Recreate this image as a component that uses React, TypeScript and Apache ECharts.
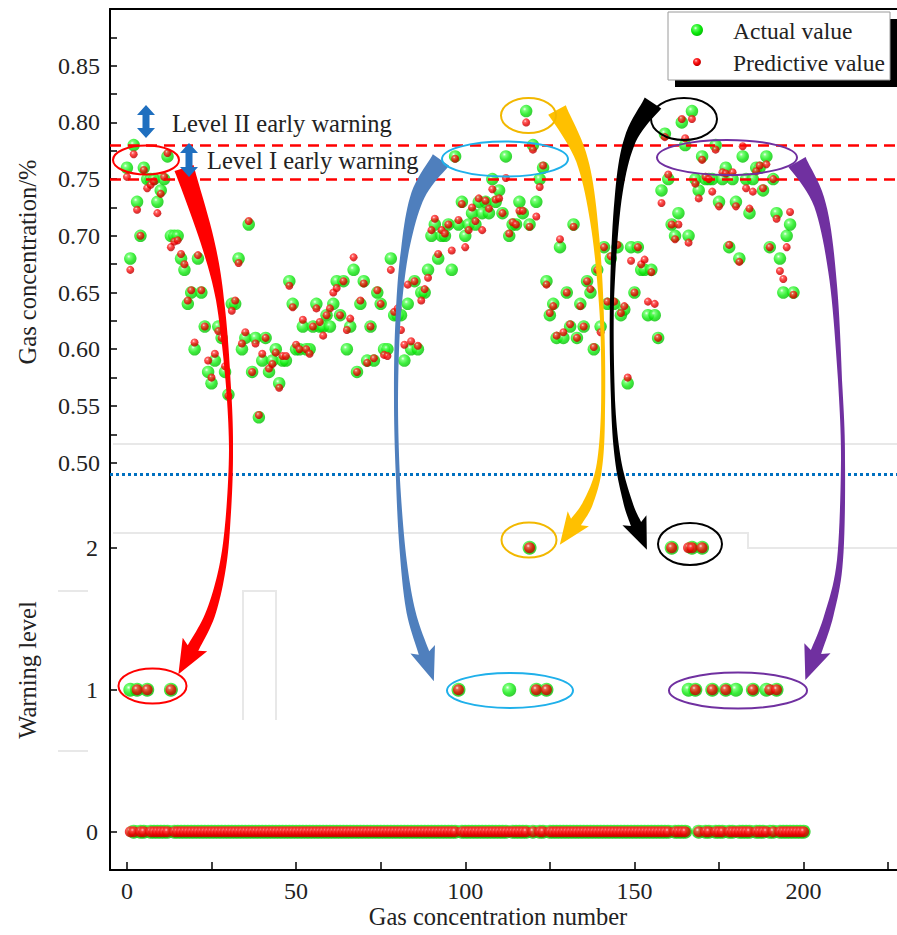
import React, { useEffect, useRef } from "react";
import * as echarts from "echarts";

// ---- Data ----
// Gas concentration (%) per sample, top panel (sample 1..198)
const actualValues = [
  0.76, 0.68, 0.78, 0.73, 0.7, 0.76, 0.75, 0.75, 0.75, 0.73, 0.74, 0.75, 0.77, 0.7, 0.7, 0.7, 0.68, 0.67, 0.64, 0.65,
  0.6, 0.68, 0.65, 0.62, 0.58, 0.57, 0.59, 0.62, 0.61, 0.58, 0.56, 0.64, 0.64, 0.68, 0.6, 0.61, 0.71, 0.58, 0.61, 0.54,
  0.59, 0.61, 0.58, 0.59, 0.6, 0.57, 0.59, 0.59, 0.66, 0.64, 0.6, 0.6, 0.62, 0.6, 0.6, 0.62, 0.64, 0.62, 0.62, 0.63,
  0.62, 0.64, 0.66, 0.63, 0.66, 0.6, 0.62, 0.67, 0.58, 0.64, 0.66, 0.59, 0.62, 0.59, 0.65, 0.64, 0.6, 0.6, 0.68, 0.63,
  0.63, 0.63, 0.59, 0.64, 0.6, 0.66, 0.6, 0.65, 0.65, 0.67, 0.7, 0.71, 0.68, 0.7, 0.7, 0.71, 0.67, 0.77, 0.71, 0.73,
  0.7, 0.71, 0.72, 0.71, 0.73, 0.72, 0.73, 0.72, 0.75, 0.73, 0.74, 0.72, 0.77, 0.7, 0.71, 0.71, 0.73, 0.72, 0.81, 0.71,
  0.78, 0.73, 0.75, 0.76, 0.66, 0.63, 0.64, 0.61, 0.69, 0.61, 0.65, 0.62, 0.71, 0.61, 0.64, 0.62, 0.66, 0.65, 0.6, 0.67,
  0.62, 0.69, 0.64, 0.68, 0.64, 0.69, 0.63, 0.635, 0.57, 0.69, 0.65, 0.69, 0.67, 0.67, 0.63, 0.67, 0.63, 0.61, 0.74, 0.79,
  0.75, 0.71, 0.7, 0.72, 0.8, 0.78, 0.7, 0.81, 0.75, 0.74, 0.77, 0.75, 0.75, 0.75, 0.78, 0.73, 0.75, 0.76, 0.69, 0.75,
  0.73, 0.68, 0.77, 0.75, 0.72, 0.75, 0.76, 0.76, 0.74, 0.77, 0.69, 0.75, 0.72, 0.68, 0.65, 0.7, 0.71, 0.65,
];
const predictedValues = [
  0.752, 0.67, 0.772, 0.723, 0.7, 0.758, 0.742, 0.745, 0.748, 0.72, 0.737, 0.752, 0.773, 0.69, 0.695, 0.696, 0.684, 0.675, 0.643, 0.652,
  0.606, 0.683, 0.652, 0.62, 0.59, 0.575, 0.596, 0.616, 0.61, 0.585, 0.559, 0.634, 0.643, 0.676, 0.605, 0.615, 0.713, 0.58, 0.605, 0.542,
  0.596, 0.61, 0.583, 0.587, 0.597, 0.566, 0.594, 0.594, 0.656, 0.637, 0.604, 0.6, 0.626, 0.6, 0.596, 0.62, 0.636, 0.624, 0.612, 0.63,
  0.636, 0.65, 0.654, 0.63, 0.66, 0.617, 0.627, 0.681, 0.58, 0.643, 0.658, 0.588, 0.62, 0.592, 0.652, 0.64, 0.595, 0.594, 0.67, 0.633,
  0.636, 0.617, 0.604, 0.657, 0.607, 0.66, 0.603, 0.643, 0.653, 0.663, 0.705, 0.715, 0.684, 0.705, 0.702, 0.71, 0.687, 0.768, 0.714, 0.728,
  0.69, 0.705, 0.725, 0.713, 0.733, 0.705, 0.731, 0.724, 0.741, 0.732, 0.733, 0.72, 0.751, 0.702, 0.712, 0.71, 0.722, 0.722, 0.8, 0.708,
  0.776, 0.717, 0.743, 0.762, 0.657, 0.632, 0.638, 0.612, 0.697, 0.615, 0.65, 0.622, 0.708, 0.61, 0.638, 0.62, 0.66, 0.653, 0.602, 0.67,
  0.615, 0.69, 0.642, 0.682, 0.642, 0.692, 0.632, 0.638, 0.575, 0.678, 0.65, 0.69, 0.675, 0.679, 0.642, 0.668, 0.64, 0.61, 0.729, 0.787,
  0.754, 0.71, 0.697, 0.71, 0.803, 0.786, 0.694, 0.803, 0.746, 0.733, 0.767, 0.752, 0.75, 0.739, 0.776, 0.726, 0.756, 0.755, 0.692, 0.756,
  0.726, 0.677, 0.779, 0.742, 0.724, 0.739, 0.757, 0.762, 0.742, 0.763, 0.69, 0.75, 0.715, 0.669, 0.662, 0.69, 0.721, 0.648,
];

// Warning level per sample, bottom panel (samples 1..200; unlisted samples are level 0)
const sampleCount = 200;
const actualLevel1Samples = [1, 3, 6, 13, 98, 113, 121, 124, 166, 168, 173, 177, 180, 185, 189, 192];
const actualLevel2Samples = [119, 161, 167, 170];
const predictedLevel1Samples = [3, 6, 13, 98, 121, 124, 168, 173, 177, 185, 190, 192];
const predictedLevel2Samples = [119, 161, 166, 167, 170];

// Thresholds / reference lines
const levelIIThreshold = 0.783;
const levelIThreshold = 0.753;
const baselineValue = 0.488;

// Axes
const concLabels = [0.5, 0.55, 0.6, 0.65, 0.7, 0.75, 0.8, 0.85];
const concTicks = [0.5, 0.525, 0.55, 0.575, 0.6, 0.625, 0.65, 0.675, 0.7, 0.725, 0.75, 0.775, 0.8, 0.825, 0.85, 0.875];
const levelTicks = [0, 1, 2];
const xLabelValues = [0, 50, 100, 150, 200];
const xTickValues = [0, 25, 50, 75, 100, 125, 150, 175, 200, 225];

const FONT = "Liberation Serif";

const greenStops = [
  { offset: 0, color: "#f4fff4" },
  { offset: 0.2, color: "#5cff5c" },
  { offset: 0.6, color: "#0bea0b" },
  { offset: 1, color: "#05bb05" },
];
const redStops = [
  { offset: 0, color: "#ffe6e6" },
  { offset: 0.22, color: "#ff4040" },
  { offset: 0.6, color: "#f00000" },
  { offset: 1, color: "#b00000" },
];
const greenBall = { type: "radial", x: 0.38, y: 0.34, r: 0.7, colorStops: greenStops };
const redBall = { type: "radial", x: 0.38, y: 0.34, r: 0.7, colorStops: redStops };

function arrowPolygon(center: number[][], widths: number[], headLen: number, headW: number) {
  const pts: number[][] = [];
  const ws: number[] = [];
  const n = center.length;
  for (let i = 0; i < n - 1; i++) {
    const p0 = center[Math.max(0, i - 1)], p1 = center[i], p2 = center[i + 1], p3 = center[Math.min(n - 1, i + 2)];
    const steps = 10;
    for (let s = 0; s < steps; s++) {
      const t = s / steps, t2 = t * t, t3 = t2 * t;
      const c = (k: number) =>
        0.5 * (2 * p1[k] + (-p0[k] + p2[k]) * t + (2 * p0[k] - 5 * p1[k] + 4 * p2[k] - p3[k]) * t2 + (-p0[k] + 3 * p1[k] - 3 * p2[k] + p3[k]) * t3);
      pts.push([c(0), c(1)]);
      ws.push(widths[i] + (widths[i + 1] - widths[i]) * t);
    }
  }
  pts.push(center[n - 1]);
  ws.push(widths[n - 1]);
  const left: number[][] = [], right: number[][] = [];
  for (let i = 0; i < pts.length; i++) {
    const a = pts[Math.max(0, i - 1)], b = pts[Math.min(pts.length - 1, i + 1)];
    let dx = b[0] - a[0], dy = b[1] - a[1];
    const L = Math.hypot(dx, dy) || 1;
    dx /= L; dy /= L;
    const nx = -dy, ny = dx, w = ws[i] / 2;
    left.push([pts[i][0] + nx * w, pts[i][1] + ny * w]);
    right.push([pts[i][0] - nx * w, pts[i][1] - ny * w]);
  }
  const pe = pts[pts.length - 1], pp = pts[pts.length - 3];
  let tx = pe[0] - pp[0], ty = pe[1] - pp[1];
  const TL = Math.hypot(tx, ty) || 1;
  tx /= TL; ty /= TL;
  const nx = -ty, ny = tx;
  const tip = [pe[0] + tx * headLen, pe[1] + ty * headLen];
  const bl = [pe[0] + nx * headW / 2 - tx * 4, pe[1] + ny * headW / 2 - ty * 4];
  const br = [pe[0] - nx * headW / 2 - tx * 4, pe[1] - ny * headW / 2 - ty * 4];
  return [...left, bl, tip, br, ...right.reverse()];
}

function doubleArrow(cx: number, top: number, bottom: number) {
  const hw = 9, sw = 3.5, hh = 10;
  return [
    [cx, top], [cx + hw, top + hh], [cx + sw, top + hh], [cx + sw, bottom - hh], [cx + hw, bottom - hh],
    [cx, bottom], [cx - hw, bottom - hh], [cx - sw, bottom - hh], [cx - sw, top + hh], [cx - hw, top + hh],
  ];
}

export default function App() {
  const ref = useRef<HTMLDivElement>(null);

  useEffect(() => {
    if (!ref.current) return;
    const chart = echarts.init(ref.current, null, { renderer: "svg" });

    const levelOf = (k: number, l1: number[], l2: number[]) => (l2.includes(k) ? 2 : l1.includes(k) ? 1 : 0);
    const samples = Array.from({ length: sampleCount }, (_, i) => i + 1);
    const actualLevels = samples.map((k) => [k, levelOf(k, actualLevel1Samples, actualLevel2Samples)]);
    const predictedLevels = samples.map((k) => [k, levelOf(k, predictedLevel1Samples, predictedLevel2Samples)]);

    const labelStyle = { fontFamily: FONT, fontSize: 24, color: "#222" };
    const axisLine = { show: true, onZero: false, lineStyle: { color: "#000", width: 2 } };

    const XMIN = -5, XMAX = 227.6;

    const textEl = (text: string, x: number, y: number, size: number, extra: any = {}) => ({
      type: "text", x, y, z: 120, ...extra,
      style: { text, fontFamily: FONT, fontSize: size, fill: "#222", textAlign: "left", textVerticalAlign: "middle", ...(extra.style || {}) },
    });
    const ellipse = (cx: number, cy: number, rx: number, ry: number, stroke: string) => ({
      type: "ellipse", z: 110, shape: { cx, cy, rx, ry }, style: { fill: "none", stroke, lineWidth: 2 },
    });
    const arrow = (pts: number[][], ws: number[], color: string, headLen = 28, headW = 26) => ({
      type: "polygon", z: 105, shape: { points: arrowPolygon(pts, ws, headLen, headW) }, style: { fill: color },
    });
    const grayLine = (pts: number[][]) => ({
      type: "polyline", z: 1, shape: { points: pts }, style: { stroke: "#e8e8e8", lineWidth: 2, fill: "none" },
    });

    const graphic: any[] = [
      // faint leftover guide lines
      grayLine([[113, 444], [897, 444]]),
      grayLine([[113, 533], [748, 533], [748, 548], [897, 548]]),
      grayLine([[58, 591], [88, 591]]),
      grayLine([[58, 751], [88, 751]]),
      grayLine([[243, 720], [243, 591], [276, 591], [276, 720]]),
      // level arrows and labels
      { type: "polygon", z: 110, shape: { points: doubleArrow(146, 105, 138) }, style: { fill: "#1f6fbf" } },
      { type: "polygon", z: 110, shape: { points: doubleArrow(189, 143, 177) }, style: { fill: "#1f6fbf" } },
      textEl("Level II early warning", 172, 123, 24.5),
      textEl("Level I early warning", 207, 160, 24.5),
      // ellipses
      ellipse(146, 160, 33, 14.5, "#ff0000"),
      ellipse(152.5, 686, 34, 17.5, "#ff0000"),
      ellipse(505, 159, 63, 17.5, "#1fb0ea"),
      ellipse(510, 690.5, 63, 17.5, "#1fb0ea"),
      ellipse(528.5, 115.5, 27.5, 17.5, "#f2b800"),
      ellipse(529, 540, 27.5, 17.5, "#f2b800"),
      ellipse(684, 119, 33, 21, "#000000"),
      ellipse(690, 544, 32, 21, "#000000"),
      ellipse(727, 157.5, 70, 17.5, "#7030a0"),
      ellipse(738, 690.5, 69, 18, "#7030a0"),
      // curved arrows
      arrow([[184, 168], [207, 240], [220, 300], [228, 380], [231, 450], [228, 520], [222, 570], [210, 615], [193, 648]],
        [20, 14, 8, 5, 4, 5, 7, 10, 12], "#ff0000", 30, 28),
      arrow([[441, 160], [418, 195], [405, 250], [398, 320], [396, 400], [398, 480], [403, 555], [411, 612], [424, 653]],
        [20, 14, 8, 5, 4, 4, 6, 9, 11], "#4f7fbd", 30, 26),
      arrow([[557, 110], [582, 160], [595, 230], [602, 320], [603, 410], [599, 468], [588, 503], [576, 522]],
        [20, 12, 7, 4, 4, 6, 10, 12], "#ffc000", 28, 26),
      arrow([[653, 103], [630, 140], [618, 200], [612, 300], [613, 400], [618, 460], [628, 503], [636, 524]],
        [20, 12, 7, 4, 4, 6, 9, 11], "#000000", 28, 26),
      arrow([[797, 162], [820, 205], [833, 280], [840, 380], [843, 460], [840, 560], [829, 615], [816, 652]],
        [20, 12, 7, 4, 4, 6, 9, 11], "#7030a0", 30, 28),
      // legend
      { type: "rect", z: 130, shape: { x: 675, y: 19, width: 222, height: 68 }, style: { fill: "#000" } },
      { type: "rect", z: 131, shape: { x: 668, y: 12, width: 222, height: 68 }, style: { fill: "#fff", stroke: "#9a9a9a", lineWidth: 1 } },
      { type: "circle", z: 132, shape: { cx: 697, cy: 30, r: 6 }, style: { fill: new echarts.graphic.RadialGradient(0.38, 0.34, 0.7, greenStops) } },
      { type: "circle", z: 132, shape: { cx: 697, cy: 62, r: 4 }, style: { fill: new echarts.graphic.RadialGradient(0.38, 0.34, 0.7, redStops) } },
      textEl("Actual value", 733, 31, 23.5, { z: 133 }),
      textEl("Predictive value", 733, 63, 23.5, { z: 133 }),
      // axis titles
      textEl("Gas concentration/%", 27, 262, 24.5, { rotation: Math.PI / 2, style: { textAlign: "center" } }),
      textEl("Warning level", 27, 670, 24.5, { rotation: Math.PI / 2, style: { textAlign: "center" } }),
      textEl("Gas concentration number", 498, 916, 24.5, { style: { textAlign: "center" } }),
    ];

    chart.setOption({
      animation: false,
      backgroundColor: "#fff",
      grid: [
        { left: 110, right: 0, top: 9, height: 482 },
        { left: 110, right: 0, top: 491, height: 379 },
      ],
      xAxis: [
        {
          gridIndex: 0, type: "value", position: "top", min: XMIN + 1, max: XMAX + 1,
          axisLine, axisTick: { show: false }, axisLabel: { show: false }, splitLine: { show: false },
        },
        {
          gridIndex: 1, type: "value", position: "bottom", min: XMIN, max: XMAX,
          axisLine,
          axisTick: { show: true, inside: true, length: 8, lineStyle: { color: "#000", width: 1.5 }, customValues: xTickValues },
          axisLabel: { ...labelStyle, margin: 9, customValues: xLabelValues },
          splitLine: { show: false },
        },
      ],
      yAxis: [
        {
          gridIndex: 0, type: "value", min: 0.475, max: 0.9,
          axisLine,
          axisTick: { show: true, inside: true, length: 7, lineStyle: { color: "#000", width: 1.5 }, customValues: concTicks },
          axisLabel: { ...labelStyle, margin: 10, customValues: concLabels, formatter: (v: number) => v.toFixed(2) },
          splitLine: { show: false },
        },
        {
          gridIndex: 1, type: "value", min: -0.27, max: 2.4,
          axisLine,
          axisTick: { show: true, inside: true, length: 7, lineStyle: { color: "#000", width: 1.5 }, customValues: levelTicks },
          axisLabel: { ...labelStyle, margin: 12, customValues: levelTicks, formatter: (v: number) => String(Math.round(v)) },
          splitLine: { show: false },
        },
      ],
      series: [
        {
          name: "Actual value", type: "scatter", xAxisIndex: 0, yAxisIndex: 0, symbolSize: 12.5, z: 3,
          itemStyle: { color: greenBall },
          data: actualValues.map((v, i) => [i + 1, v]),
        },
        {
          name: "Predictive value", type: "scatter", xAxisIndex: 0, yAxisIndex: 0, symbolSize: 8, z: 4,
          itemStyle: { color: redBall },
          data: predictedValues.map((v, i) => [i + 1, v]),
          markLine: {
            silent: true, symbol: "none", label: { show: false },
            data: [
              { yAxis: levelIIThreshold, lineStyle: { color: "#ff0000", type: [11, 7], width: 2.5 } },
              { yAxis: levelIThreshold, lineStyle: { color: "#ff0000", type: [11, 7], width: 2.5 } },
              { yAxis: baselineValue, lineStyle: { color: "#0070c0", type: [3, 3], width: 3 } },
            ],
          },
        },
        {
          name: "Actual level", type: "scatter", xAxisIndex: 1, yAxisIndex: 1, symbolSize: 14, z: 3,
          itemStyle: { color: greenBall },
          data: actualLevels,
        },
        {
          name: "Predicted level", type: "scatter", xAxisIndex: 1, yAxisIndex: 1, symbolSize: 11, z: 4,
          itemStyle: { color: redBall },
          data: predictedLevels,
        },
      ],
      graphic,
    });

    return () => chart.dispose();
  }, []);

  return <div ref={ref} style={{ position: "fixed", left: 0, top: 0, width: 897, height: 935, background: "#fff" }} />;
}
